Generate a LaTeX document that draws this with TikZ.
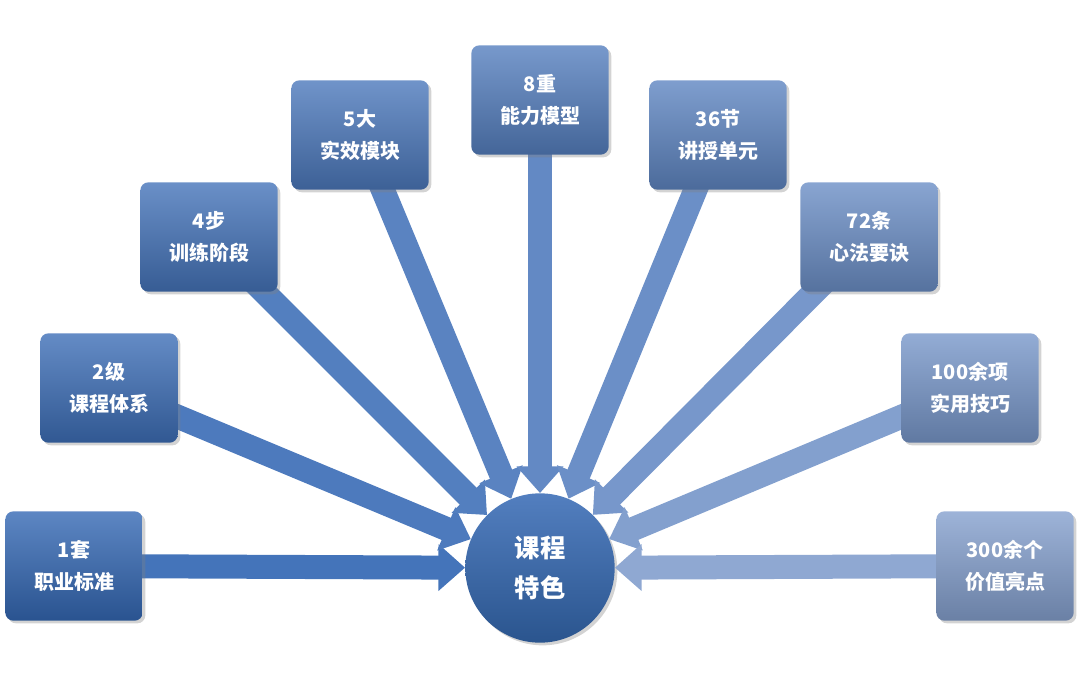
\documentclass[tikz,border=0pt]{standalone}
\usepackage{fontspec}
\setmainfont{Noto Sans CJK SC}
\usetikzlibrary{arrows.meta,shadows}
\definecolor{cdark}{HTML}{3468B4}
\definecolor{clight}{HTML}{90A8D2}
\definecolor{cmid}{HTML}{2F5E9E}
\tikzset{
  featbox/.style={rounded corners=6pt, minimum width=103pt, minimum height=82pt,
    align=center, text=white, font=\bfseries\fontsize{15}{24}\selectfont,
    drop shadow={shadow xshift=2pt, shadow yshift=-2pt, opacity=.35}},
  hub/.style={circle, minimum size=112pt, text=white, align=center,
    font=\bfseries\fontsize{19}{30}\selectfont,
    top color=cdark!85!white, bottom color=cmid!90!black,
    drop shadow={shadow xshift=2pt, shadow yshift=-2pt, opacity=.35}},
  feed/.style={line width=18pt, -{Triangle[width=34pt,length=20pt]}, shorten <=2pt}
}
\begin{document}
\begin{tikzpicture}[x=0.75pt,y=-0.75pt]
  \useasboundingbox (0,0) rectangle (1080,685);
  \node[hub] (hub) at (540,568) {课程\\特色};
  % feature boxes, left (dark) to right (light)
  \foreach \n/\x/\y/\top/\bot/\p in {
      b1/74/566/1套/职业标准/100,
      b2/109/388/2级/课程体系/90,
      b3/209/237/4步/训练阶段/82,
      b4/360/135/5大/实效模块/74,
      b5/540/100/8重/能力模型/64,
      b6/718/135/36节/讲授单元/54,
      b7/869/237/72条/心法要诀/40,
      b8/970/388/100余项/实用技巧/26,
      b9/1005/566/300余个/价值亮点/12}{
    \colorlet{tone}{cdark!\p!clight}
    \draw[feed, color=tone!92!white] (\x,\y) -- (hub);
    \node[featbox, top color=tone!80!white, bottom color=tone!80!black] (\n) at (\x,\y) {\top\\\bot};
  }
\end{tikzpicture}
\end{document}
